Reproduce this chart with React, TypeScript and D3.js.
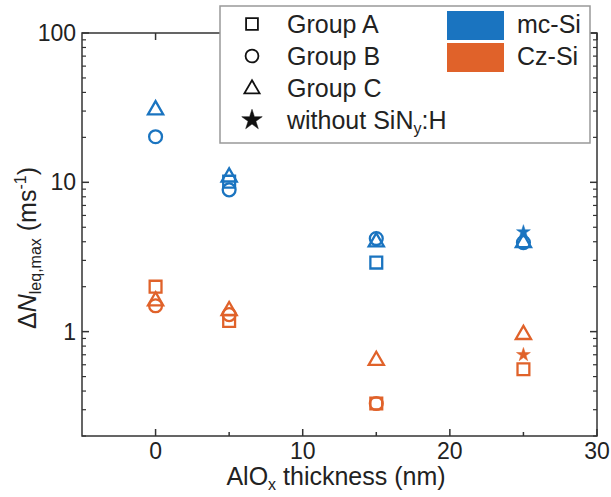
import React from "react";
import * as d3 from "d3";

const W = 611, H = 497;
const thickness = [0, 5, 15, 25];

// mc-Si values (null = not shown)
const mcGroupA = [null, 10.1, 2.9, null];
const mcGroupB = [20.2, 8.9, 4.2, 3.95];
const mcGroupC = [31, 11.0, 4.05, 4.0];
const mcNoSiN = [null, null, null, 4.65];

// Cz-Si values
const czGroupA = [2.0, 1.18, 0.33, 0.56];
const czGroupB = [1.49, 1.3, 0.33, null];
const czGroupC = [1.63, 1.4, 0.65, 0.97];
const czNoSiN = [null, null, null, 0.7];

const xTicks = [0, 10, 20, 30];
const xMinor = [5, 15, 25];
const yTicks = [1, 10, 100];

const BLUE = "#1a74c0";
const ORANGE = "#e0622a";

const M = { left: 82, right: 597, top: 33, bottom: 436 };

export default function App() {
  const x = d3.scaleLinear().domain([-5, 30]).range([M.left, M.right]);
  const y = d3.scaleLog().domain([0.2, 100]).range([M.bottom, M.top]);

  const sq = d3.symbol().type(d3.symbolSquare).size(140)();
  const ci = d3.symbol().type(d3.symbolCircle).size(130)();
  const tr = d3.symbol().type(d3.symbolTriangle).size(100)();
  const st = d3.symbol().type(d3.symbolStar).size(60)();
  const stLeg = d3.symbol().type(d3.symbolStar).size(130)();

  const yMinor: number[] = [];
  [0.1, 1, 10].forEach((d) => {
    for (let k = 2; k <= 9; k++) {
      const v = d * k;
      if (v >= 0.2 && v <= 100) yMinor.push(v);
    }
  });

  const series = [
    { vals: mcGroupA, path: sq, color: BLUE, filled: false, dy: 0 },
    { vals: mcGroupB, path: ci, color: BLUE, filled: false, dy: 0 },
    { vals: mcGroupC, path: tr, color: BLUE, filled: false, dy: 1 },
    { vals: mcNoSiN, path: st, color: BLUE, filled: true, dy: 0 },
    { vals: czGroupA, path: sq, color: ORANGE, filled: false, dy: 0 },
    { vals: czGroupB, path: ci, color: ORANGE, filled: false, dy: 0 },
    { vals: czGroupC, path: tr, color: ORANGE, filled: false, dy: 1 },
    { vals: czNoSiN, path: st, color: ORANGE, filled: true, dy: 0 },
  ];

  const axisColor = "#333";
  const font = "Liberation Sans, Arial, Helvetica, sans-serif";
  const fs = 23;
  const fsL = 25;

  const legendRows = [
    { label: "Group A", path: sq, filled: false },
    { label: "Group B", path: ci, filled: false },
    { label: "Group C", path: tr, filled: false },
    { label: "without", path: stLeg, filled: true },
  ];
  const rowY = [24, 56, 88, 120];

  return (
    <svg width={W} height={H} style={{ position: "absolute", left: 0, top: 0, background: "#fff" }} fontFamily={font}>
      <rect x={0} y={0} width={W} height={H} fill="#fff" />
      {/* frame */}
      <rect x={M.left} y={M.top} width={M.right - M.left} height={M.bottom - M.top} fill="none" stroke={axisColor} strokeWidth={1.5} />
      {/* x ticks */}
      {xTicks.map((t) => (
        <g key={"xt" + t}>
          <line x1={x(t)} x2={x(t)} y1={M.bottom} y2={M.bottom - 7} stroke={axisColor} strokeWidth={1.5} />
          <line x1={x(t)} x2={x(t)} y1={M.top} y2={M.top + 7} stroke={axisColor} strokeWidth={1.5} />
          <text x={x(t)} y={M.bottom + 23} textAnchor="middle" fontSize={fs} fill="#222">{t}</text>
        </g>
      ))}
      {xMinor.map((t) => (
        <g key={"xm" + t}>
          <line x1={x(t)} x2={x(t)} y1={M.bottom} y2={M.bottom - 4} stroke={axisColor} strokeWidth={1.5} />
          <line x1={x(t)} x2={x(t)} y1={M.top} y2={M.top + 4} stroke={axisColor} strokeWidth={1.5} />
        </g>
      ))}
      {/* y ticks */}
      {yTicks.map((t) => (
        <g key={"yt" + t}>
          <line x1={M.left} x2={M.left + 7} y1={y(t)} y2={y(t)} stroke={axisColor} strokeWidth={1.5} />
          <line x1={M.right} x2={M.right - 7} y1={y(t)} y2={y(t)} stroke={axisColor} strokeWidth={1.5} />
          <text x={M.left - 6} y={y(t) + 8} textAnchor="end" fontSize={fs} fill="#222">{t}</text>
        </g>
      ))}
      {yMinor.map((t) => (
        <g key={"ym" + t}>
          <line x1={M.left} x2={M.left + 4} y1={y(t)} y2={y(t)} stroke={axisColor} strokeWidth={1.2} />
          <line x1={M.right} x2={M.right - 4} y1={y(t)} y2={y(t)} stroke={axisColor} strokeWidth={1.2} />
        </g>
      ))}
      {/* axis titles */}
      <text x={336} y={485} textAnchor="middle" fontSize={fsL} fill="#222">
        AlO<tspan fontSize={16} dy={5}>x</tspan><tspan dy={-5}> thickness (nm)</tspan>
      </text>
      <text transform={`translate(36,${248}) rotate(-90)`} textAnchor="middle" fontSize={fsL} fill="#222">
        Δ<tspan fontStyle="italic">N</tspan><tspan fontSize={16} dy={5}>leq,max</tspan><tspan dy={-5}> (ms</tspan><tspan fontSize={16} dy={-10}>-1</tspan><tspan dy={10}>)</tspan>
      </text>
      {/* data */}
      {series.map((s, si) =>
        s.vals.map((v, i) =>
          v == null ? null : (
            <path
              key={si + "-" + i}
              d={s.path as string}
              transform={`translate(${x(thickness[i])},${y(v) + s.dy})`}
              fill={s.filled ? s.color : "none"}
              stroke={s.color}
              strokeWidth={s.filled ? 0.5 : 2.3}
            />
          )
        )
      )}
      {/* legend */}
      <rect x={220} y={6} width={370} height={137} fill="#fff" stroke="#999" strokeWidth={1.5} />
      {legendRows.map((r, i) => (
        <g key={"lg" + i}>
          <path d={r.path as string} transform={`translate(252,${rowY[i] + (r.path === tr ? 1 : 0)})`} fill={r.filled ? "#111" : "none"} stroke="#111" strokeWidth={r.filled ? 0.5 : 1.8} />
          <text x={287} y={rowY[i] + 9} fontSize={fsL} fill="#222">
            {r.label}
            {i === 3 ? (
              <>
                <tspan> SiN</tspan>
                <tspan fontSize={16} dy={5}>y</tspan>
                <tspan dy={-5}>:H</tspan>
              </>
            ) : null}
          </text>
        </g>
      ))}
      <rect x={447} y={11} width={57} height={29} fill={BLUE} />
      <rect x={447} y={43} width={57} height={29} fill={ORANGE} />
      <text x={517} y={rowY[0] + 9} fontSize={fsL} fill="#222">mc-Si</text>
      <text x={517} y={rowY[1] + 9} fontSize={fsL} fill="#222">Cz-Si</text>
    </svg>
  );
}
